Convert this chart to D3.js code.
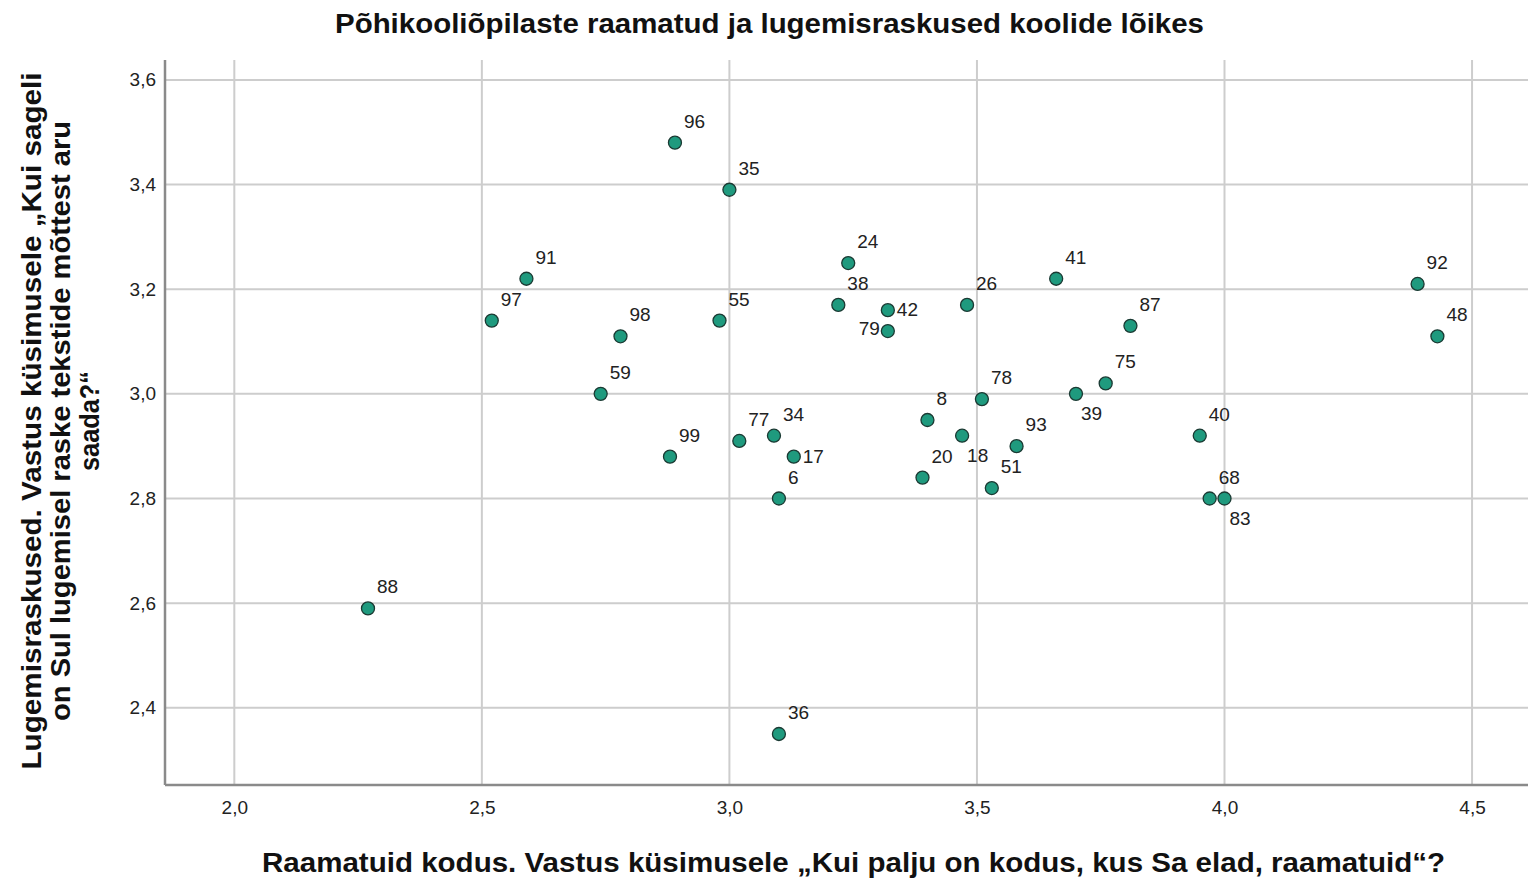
<!DOCTYPE html>
<html>
<head>
<meta charset="utf-8">
<script src="https://cdn.jsdelivr.net/npm/d3@7"></script>
<style>
  body { margin: 0; background: #fff; }
  svg { display: block; font-family: "Liberation Sans", Arial, sans-serif; }
</style>
</head>
<body>
<div id="viz"></div>
<script>
// school ids and the two averages per school
const schools = [96, 35, 91, 97, 98, 59, 55, 24, 38, 42, 79, 26, 41, 87, 75, 39, 78, 8, 18, 93,
                 20, 51, 40, 68, 83, 92, 48, 99, 77, 34, 17, 6, 88, 36];
const books = [2.89, 3.00, 2.59, 2.52, 2.78, 2.74, 2.98, 3.24, 3.22, 3.32, 3.32, 3.48, 3.66, 3.81, 3.76, 3.70, 3.51, 3.40, 3.47, 3.58,
               3.39, 3.53, 3.95, 3.97, 4.00, 4.39, 4.43, 2.88, 3.02, 3.09, 3.13, 3.10, 2.27, 3.10];
const difficulty = [3.48, 3.39, 3.22, 3.14, 3.11, 3.00, 3.14, 3.25, 3.17, 3.16, 3.12, 3.17, 3.22, 3.13, 3.02, 3.00, 2.99, 2.95, 2.92, 2.90,
                    2.84, 2.82, 2.92, 2.80, 2.80, 3.21, 3.11, 2.88, 2.91, 2.92, 2.88, 2.80, 2.59, 2.35];

const xTicks = [2.0, 2.5, 3.0, 3.5, 4.0, 4.5];
const yTicks = [2.4, 2.6, 2.8, 3.0, 3.2, 3.4, 3.6];

const title = "Põhikooliõpilaste raamatud ja lugemisraskused koolide lõikes";
const xTitle = "Raamatuid kodus. Vastus küsimusele „Kui palju on kodus, kus Sa elad, raamatuid“?";
const yTitleLines = ["Lugemisraskused. Vastus küsimusele „Kui sageli",
                     "on Sul lugemisel raske tekstide mõttest aru",
                     "saada?“"];

// labels that do not sit up-right of their point
const labelSide = { 42: "right", 17: "right", 79: "left", 39: "below", 83: "below", 18: "below" };

const width = 1528, height = 881;
const margin = { left: 165, right: 1528, top: 60, bottom: 785 };

const svg = d3.select("#viz").append("svg")
  .attr("width", width)
  .attr("height", height);

const x = d3.scaleLinear().domain([1.86, 4.613]).range([margin.left, margin.right]);
const y = d3.scaleLinear().domain([2.2525, 3.638]).range([margin.bottom, margin.top]);

// grid
svg.append("g")
  .selectAll("line")
  .data(xTicks)
  .enter().append("line")
  .attr("x1", d => x(d)).attr("x2", d => x(d))
  .attr("y1", margin.top).attr("y2", margin.bottom)
  .attr("stroke", "#cdcdcd")
  .attr("stroke-width", 2);

svg.append("g")
  .selectAll("line")
  .data(yTicks)
  .enter().append("line")
  .attr("x1", margin.left).attr("x2", margin.right)
  .attr("y1", d => y(d)).attr("y2", d => y(d))
  .attr("stroke", "#cdcdcd")
  .attr("stroke-width", 2);

// axes
const fmt = d => d3.format(".1f")(d).replace(".", ",");

const xAxis = svg.append("g")
  .attr("transform", `translate(0,${margin.bottom})`)
  .call(d3.axisBottom(x).tickValues(xTicks).tickFormat(fmt).tickSize(0).tickPadding(16));

const yAxis = svg.append("g")
  .attr("transform", `translate(${margin.left},0)`)
  .call(d3.axisLeft(y).tickValues(yTicks).tickFormat(fmt).tickSize(0).tickPadding(9));

[xAxis, yAxis].forEach(a => {
  a.select(".domain").attr("stroke", "#8a8a8a").attr("stroke-width", 2.5);
  a.selectAll("text")
    .attr("font-size", 19)
    .attr("fill", "#222");
});
xAxis.select(".domain").attr("d", `M${margin.left},0H${margin.right}`);
yAxis.select(".domain").attr("d", `M0,${margin.top}V${margin.bottom}`);

// points
const pts = schools.map((id, i) => ({ id: id, bx: books[i], dy: difficulty[i] }));

svg.append("g")
  .selectAll("circle")
  .data(pts)
  .enter().append("circle")
  .attr("cx", d => x(d.bx))
  .attr("cy", d => y(d.dy))
  .attr("r", 6.5)
  .attr("fill", "#1f9a7e")
  .attr("stroke", "#1b3a33")
  .attr("stroke-width", 1.3);

svg.append("g")
  .selectAll("text")
  .data(pts)
  .enter().append("text")
  .text(d => d.id)
  .attr("font-size", 19)
  .attr("fill", "#222")
  .attr("text-anchor", d => labelSide[d.id] === "left" ? "end" : "start")
  .attr("x", d => {
    const side = labelSide[d.id];
    if (side === "left") return x(d.bx) - 8;
    if (side === "below") return x(d.bx) + 5;
    return x(d.bx) + 9;
  })
  .attr("y", d => {
    const side = labelSide[d.id];
    if (side === "right") return y(d.dy) + 6;
    if (side === "left") return y(d.dy) + 4;
    if (side === "below") return y(d.dy) + 26;
    return y(d.dy) - 15;
  });

// titles
svg.append("text")
  .text(title)
  .attr("x", 769.5).attr("y", 33)
  .attr("text-anchor", "middle")
  .attr("font-size", 27)
  .attr("font-weight", "bold")
  .attr("fill", "#111")
  .attr("textLength", 869)
  .attr("lengthAdjust", "spacingAndGlyphs");

svg.append("text")
  .text(xTitle)
  .attr("x", 853.5).attr("y", 872)
  .attr("text-anchor", "middle")
  .attr("font-size", 27)
  .attr("font-weight", "bold")
  .attr("fill", "#111")
  .attr("textLength", 1183)
  .attr("lengthAdjust", "spacingAndGlyphs");

const yLen = [697, 600, 100];
const yTitle = svg.append("g")
  .attr("transform", "translate(0,421) rotate(-90)");
yTitleLines.forEach((line, i) => {
  yTitle.append("text")
    .text(line)
    .attr("x", 0)
    .attr("y", 41 + i * 29)
    .attr("text-anchor", "middle")
    .attr("font-size", 28)
    .attr("font-weight", "bold")
    .attr("fill", "#111")
    .attr("textLength", yLen[i])
    .attr("lengthAdjust", "spacingAndGlyphs");
});
</script>
</body>
</html>
